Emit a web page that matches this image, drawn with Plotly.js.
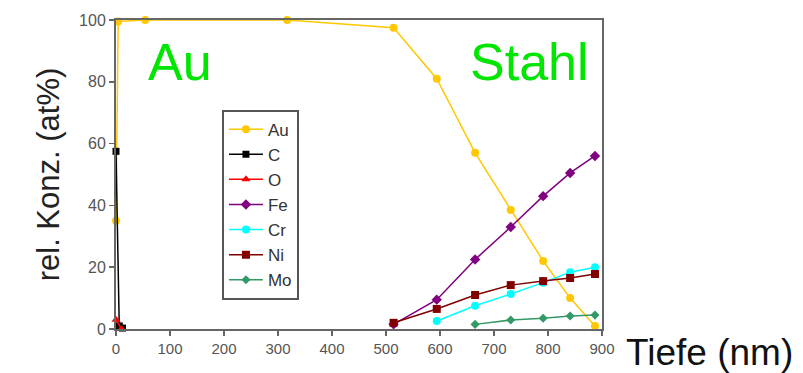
<!DOCTYPE html>
<html><head><meta charset="utf-8">
<script src="https://cdn.plot.ly/plotly-3.0.1.min.js"></script>
<style>body{margin:0;background:#fff}#c{width:803px;height:373px}</style>
</head><body><div id="c"></div>
<script>
const auX = [0, 4, 54, 317, 514, 594, 665, 731, 791, 841, 887];
const auY = [35, 99.5, 100, 100, 97.5, 81, 57, 38.5, 22, 10, 1];
const cX = [0, 6, 12];
const cY = [57.5, 1, 0.3];
const oX = [0, 10];
const oY = [3, 0];
const feX = [514, 594, 665, 731, 791, 841, 887];
const feY = [1.5, 9.5, 22.5, 33, 43, 50.5, 56];
const crX = [594, 665, 731, 791, 841, 887];
const crY = [2.6, 7.5, 11.3, 15, 18.4, 20];
const niX = [514, 594, 665, 731, 791, 841, 887];
const niY = [2, 6.5, 11, 14.2, 15.5, 16.5, 17.8];
const moX = [665, 731, 791, 841, 887];
const moY = [1.5, 2.9, 3.5, 4.2, 4.5];

function tr(name, x, y, color, symbol, size){
  return {type:'scatter', mode:'lines+markers', name:name, x:x, y:y, legendgroup:name,
    line:{color:color, width:1.5}, marker:{color:color, symbol:symbol, size:size},
    cliponaxis:false};
}
const data = [
  tr('Au', auX, auY, '#ffc800', 'circle', 8),
  tr('C', cX, cY, '#000000', 'square', 7),
  tr('O', oX, oY, '#ff0000', 'triangle-up', 8),
  tr('Fe', feX, feY, '#800080', 'diamond', 8),
  tr('Cr', crX, crY, '#00ffff', 'circle', 8),
  tr('Ni', niX, niY, '#800000', 'square', 8),
  tr('Mo', moX, moY, '#339966', 'diamond', 7)
];
const layout = {
  width:803, height:373,
  margin:{l:116, r:201, t:20, b:44},
  paper_bgcolor:'#fff', plot_bgcolor:'#fff',
  font:{family:'Liberation Sans, Arial, sans-serif', color:'#000'},
  xaxis:{range:[0,900], tickvals:[0,100,200,300,400,500,600,700,800,900],
    showgrid:false, zeroline:false, showline:true, mirror:true, linecolor:'#666', linewidth:2,
    ticks:'outside', ticklen:5, tickcolor:'#666', tickwidth:1.5,
    tickfont:{family:'Liberation Sans Narrow, Liberation Sans, Arial', size:15, color:'#555'}},
  yaxis:{range:[0,100], tickvals:[0,20,40,60,80,100],
    showgrid:false, zeroline:false, showline:true, mirror:true, linecolor:'#666', linewidth:2,
    ticks:'outside', ticklen:5, tickcolor:'#666', tickwidth:1.5,
    tickfont:{family:'Liberation Sans Narrow, Liberation Sans, Arial', size:16, color:'#555'},
    title:{text:'rel. Konz. (at%)', font:{size:31, color:'#222'}, standoff:10}},
  showlegend:true,
  legend:{x:0.218, y:0.71, xanchor:'left', yanchor:'top', bgcolor:'#fff',
    bordercolor:'#555', borderwidth:2, tracegroupgap:0,
    font:{size:17, color:'#333'}, itemwidth:34},
  annotations:[
    {xref:'paper', yref:'paper', x:0.132, y:0.864, text:'Au', showarrow:false,
     font:{size:52, color:'#00e600'}, xanchor:'center', yanchor:'middle'},
    {xref:'paper', yref:'paper', x:0.85, y:0.864, text:'Stahl', showarrow:false,
     font:{size:52, color:'#00e600'}, xanchor:'center', yanchor:'middle'},
    {xref:'paper', yref:'paper', x:1.045, y:-0.075, text:'Tiefe (nm)', showarrow:false,
     font:{family:'Liberation Sans Narrow, Liberation Sans, Arial', size:37, color:'#111'}, xanchor:'left', yanchor:'middle'}
  ]
};
Plotly.newPlot('c', data, layout, {displayModeBar:false, staticPlot:true});
</script></body></html>
